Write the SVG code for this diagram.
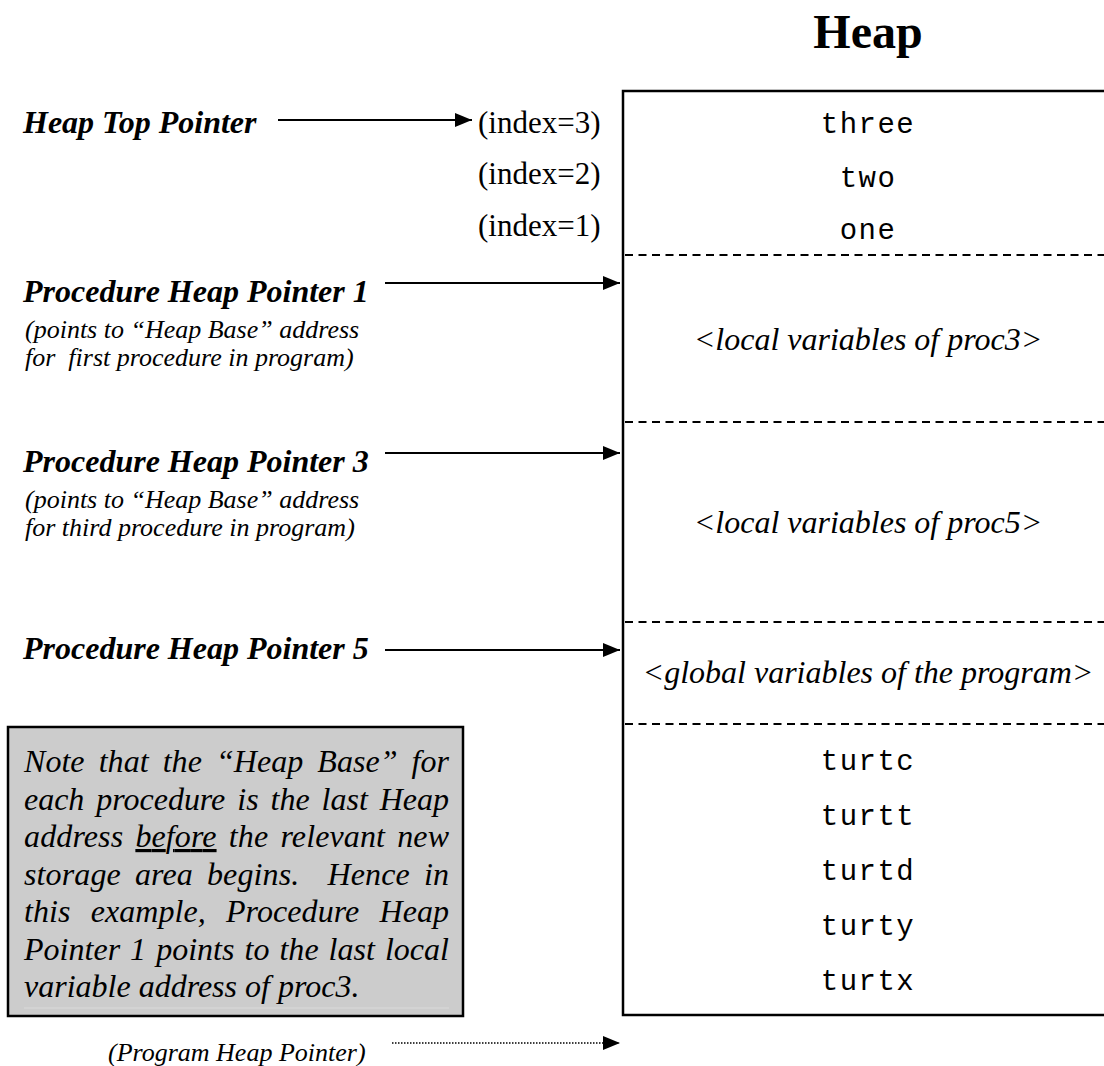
<svg xmlns="http://www.w3.org/2000/svg" width="1104" height="1066" viewBox="0 0 1104 1066">
  <style>
    .title{font-family:"Liberation Serif",serif;font-weight:bold;font-size:48px;text-anchor:middle}
    .lbl{font-family:"Liberation Serif",serif;font-weight:bold;font-style:italic;font-size:32px}
    .sub{font-family:"Liberation Serif",serif;font-style:italic;font-size:26px}
    .idx{font-family:"Liberation Serif",serif;font-size:31px}
    .mono{font-family:"Liberation Mono",monospace;font-size:29px;letter-spacing:1.5px;text-anchor:middle}
    .area{font-family:"Liberation Serif",serif;font-style:italic;font-size:32px;text-anchor:middle}
    .note{font-family:"Liberation Serif",serif;font-style:italic;font-size:32px}
    .div{stroke:#000;stroke-width:2;stroke-dasharray:8 5.5}
    .arr{stroke:#000;stroke-width:2;fill:none;marker-end:url(#head)}
    .dot{stroke:#000;stroke-width:1.5;stroke-dasharray:1.5 1.5;fill:none;marker-end:url(#head)}
  </style>
  <defs>
    <marker id="head" markerUnits="userSpaceOnUse" markerWidth="18" markerHeight="14" refX="17" refY="7" orient="auto">
      <path d="M0,0 L17,7 L0,14 Z" fill="#000" stroke="none"/>
    </marker>
  </defs>
  <rect width="1104" height="1066" fill="#fff"/>

  <text class="title" x="868" y="48">Heap</text>

  <!-- heap storage column -->
  <g id="heap">
    <rect x="623" y="91" width="500" height="924" fill="#fff" stroke="#000" stroke-width="2.5"/>
    <line class="div" x1="625" y1="255" x2="1104" y2="255"/>
    <line class="div" x1="625" y1="422" x2="1104" y2="422"/>
    <line class="div" x1="625" y1="622" x2="1104" y2="622"/>
    <line class="div" x1="625" y1="724" x2="1104" y2="724"/>
    <text class="mono" x="868" y="133">three</text>
    <text class="mono" x="868" y="187">two</text>
    <text class="mono" x="868" y="239">one</text>
    <text class="area" x="868" y="350">&lt;local variables of proc3&gt;</text>
    <text class="area" x="868" y="533">&lt;local variables of proc5&gt;</text>
    <text class="area" x="868" y="683">&lt;global variables of the program&gt;</text>
    <text class="mono" x="868" y="770">turtc</text>
    <text class="mono" x="868" y="825">turtt</text>
    <text class="mono" x="868" y="880">turtd</text>
    <text class="mono" x="868" y="935">turty</text>
    <text class="mono" x="868" y="990">turtx</text>
  </g>

  <g id="indices">
    <text class="idx" x="478" y="133">(index=3)</text>
    <text class="idx" x="478" y="184">(index=2)</text>
    <text class="idx" x="478" y="236">(index=1)</text>
  </g>

  <g id="heap-top-pointer">
    <text class="lbl" x="23" y="133">Heap Top Pointer</text>
  </g>

  <g id="proc-heap-pointer-1">
    <text class="lbl" x="23" y="302">Procedure Heap Pointer 1</text>
    <text class="sub" x="25" y="338">(points to “Heap Base” address</text>
    <text class="sub" x="25" y="366" xml:space="preserve">for  first procedure in program)</text>
  </g>

  <g id="proc-heap-pointer-3">
    <text class="lbl" x="23" y="472">Procedure Heap Pointer 3</text>
    <text class="sub" x="25" y="508">(points to “Heap Base” address</text>
    <text class="sub" x="25" y="536">for third procedure in program)</text>
  </g>

  <g id="proc-heap-pointer-5">
    <text class="lbl" x="23" y="659">Procedure Heap Pointer 5</text>
  </g>

  <!-- justified note, word gaps widened per line -->
  <g id="note">
    <rect x="8" y="727" width="455" height="289" fill="#cccccc" stroke="#000" stroke-width="2.5"/>
    <line x1="24" y1="1008" x2="449" y2="1008" stroke="#dadada" stroke-width="1"/>
    <text class="note" x="24" y="772" word-spacing="6" textLength="425" lengthAdjust="spacing">Note that the “Heap Base” for</text>
    <text class="note" x="24" y="810" word-spacing="4" textLength="425" lengthAdjust="spacing">each procedure is the last Heap</text>
    <text class="note" x="24" y="847" word-spacing="4" textLength="425" lengthAdjust="spacing">address <tspan text-decoration="underline">before</tspan> the relevant new</text>
    <text class="note" x="24" y="885" word-spacing="6" textLength="425" lengthAdjust="spacing" xml:space="preserve">storage area begins.  Hence in</text>
    <text class="note" x="24" y="922" word-spacing="12" textLength="425" lengthAdjust="spacing">this example, Procedure Heap</text>
    <text class="note" x="24" y="960" word-spacing="2" textLength="425" lengthAdjust="spacing">Pointer 1 points to the last local</text>
    <text class="note" x="24" y="997">variable address of proc3.</text>
  </g>

  <g id="program-heap-pointer">
    <text class="sub" x="108" y="1061">(Program Heap Pointer)</text>
  </g>

  <!-- pointer arrows -->
  <g id="connectors">
    <line class="arr" x1="278" y1="120" x2="472" y2="120"/>
    <line class="arr" x1="385" y1="283" x2="620" y2="283"/>
    <line class="arr" x1="385" y1="453" x2="620" y2="453"/>
    <line class="arr" x1="385" y1="650" x2="620" y2="650"/>
    <line class="dot" x1="392" y1="1043" x2="620" y2="1043"/>
  </g>
</svg>
